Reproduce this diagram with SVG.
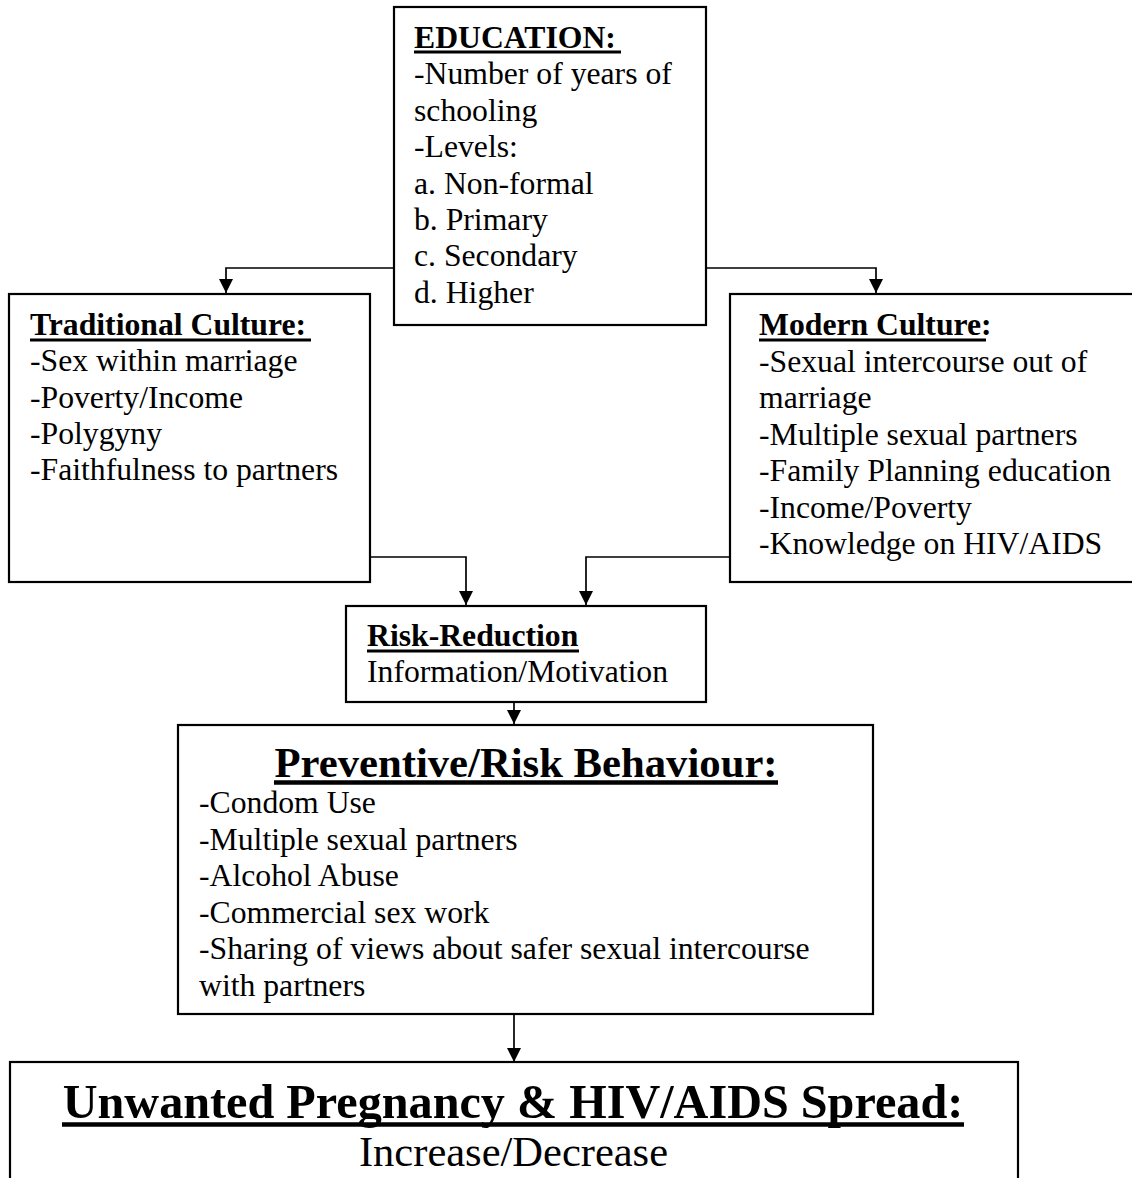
<svg xmlns="http://www.w3.org/2000/svg" width="1132" height="1178" viewBox="0 0 1132 1178">
  <style>
    .box { fill: #ffffff; stroke: #000000; stroke-width: 2.2; }
    .t { font-family: "Liberation Serif", "Times New Roman", serif; font-size: 31.7px; fill: #000000; }
    .h { font-family: "Liberation Serif", "Times New Roman", serif; font-size: 31.7px; font-weight: bold; fill: #000000; }
    .ul { stroke: #000000; stroke-width: 3; }
    .conn { fill: none; stroke: #000000; stroke-width: 1.7; }
  </style>
  <defs>
    <marker id="arrow" markerUnits="userSpaceOnUse" markerWidth="14" markerHeight="14" refX="14" refY="7" orient="auto">
      <path d="M0,0 L14,7 L0,14 z" fill="#000000"/>
    </marker>
  </defs>
  <rect width="1132" height="1178" fill="#ffffff"/>

  <g id="connectors">
    <path class="conn" d="M394,268 H226 V293" marker-end="url(#arrow)"/>
    <path class="conn" d="M706,268 H876 V293" marker-end="url(#arrow)"/>
    <path class="conn" d="M370,557 H466 V605" marker-end="url(#arrow)"/>
    <path class="conn" d="M730,557 H586 V605" marker-end="url(#arrow)"/>
    <path class="conn" d="M514,702 V724" marker-end="url(#arrow)"/>
    <path class="conn" d="M514,1014 V1062" marker-end="url(#arrow)"/>
  </g>

  <g id="education">
    <rect class="box" x="394" y="7" width="312" height="318"/>
    <text class="h" x="414" y="48">EDUCATION:</text>
    <line class="ul" x1="414" y1="52" x2="621" y2="52"/>
    <text class="t" x="414" y="84.4">-Number of years of</text>
    <text class="t" x="414" y="120.8">schooling</text>
    <text class="t" x="414" y="157.2">-Levels:</text>
    <text class="t" x="414" y="193.6">a. Non-formal</text>
    <text class="t" x="414" y="230">b. Primary</text>
    <text class="t" x="414" y="266.4">c. Secondary</text>
    <text class="t" x="414" y="302.8">d. Higher</text>
  </g>

  <g id="traditional">
    <rect class="box" x="9" y="294" width="361" height="288"/>
    <text class="h" x="30" y="335">Traditional Culture:</text>
    <line class="ul" x1="30" y1="340" x2="311" y2="340"/>
    <text class="t" x="30" y="371.3">-Sex within marriage</text>
    <text class="t" x="30" y="407.6">-Poverty/Income</text>
    <text class="t" x="30" y="443.9">-Polygyny</text>
    <text class="t" x="30" y="480.2">-Faithfulness to partners</text>
  </g>

  <g id="modern">
    <rect class="box" x="730" y="294" width="420" height="288"/>
    <text class="h" x="759" y="335">Modern Culture:</text>
    <line class="ul" x1="759" y1="340" x2="986" y2="340"/>
    <text class="t" x="759" y="371.5">-Sexual intercourse out of</text>
    <text class="t" x="759" y="408">marriage</text>
    <text class="t" x="759" y="444.5">-Multiple sexual partners</text>
    <text class="t" x="759" y="481">-Family Planning education</text>
    <text class="t" x="759" y="517.5">-Income/Poverty</text>
    <text class="t" x="759" y="554">-Knowledge on HIV/AIDS</text>
  </g>

  <g id="risk-reduction">
    <rect class="box" x="346" y="606" width="360" height="96"/>
    <text class="h" x="367" y="646">Risk-Reduction</text>
    <line class="ul" x1="367" y1="651" x2="579" y2="651"/>
    <text class="t" x="367" y="682">Information/Motivation</text>
  </g>

  <g id="preventive">
    <rect class="box" x="178" y="725" width="695" height="289"/>
    <text class="h" x="526" y="777" text-anchor="middle" style="font-size:42.7px">Preventive/Risk Behaviour:</text>
    <line x1="274" y1="782.5" x2="778" y2="782.5" stroke="#000000" stroke-width="4.5"/>
    <text class="t" x="199" y="813">-Condom Use</text>
    <text class="t" x="199" y="849.5">-Multiple sexual partners</text>
    <text class="t" x="199" y="886">-Alcohol Abuse</text>
    <text class="t" x="199" y="922.5">-Commercial sex work</text>
    <text class="t" x="199" y="959">-Sharing of views about safer sexual intercourse</text>
    <text class="t" x="199" y="995.5">with partners</text>
  </g>

  <g id="unwanted">
    <rect class="box" x="10" y="1062" width="1008" height="140"/>
    <text class="h" x="513" y="1118" text-anchor="middle" style="font-size:48.2px">Unwanted Pregnancy &amp; HIV/AIDS Spread:</text>
    <line x1="62" y1="1124.5" x2="964" y2="1124.5" stroke="#000000" stroke-width="4.5"/>
    <text class="t" x="513.5" y="1166" text-anchor="middle" style="font-size:42.5px">Increase/Decrease</text>
  </g>
</svg>
